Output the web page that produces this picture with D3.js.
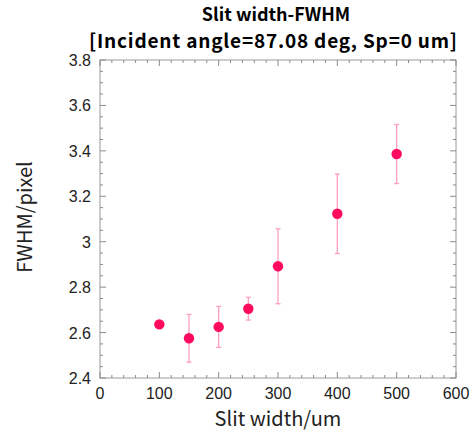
<!DOCTYPE html>
<html>
<head>
<meta charset="utf-8">
<script src="https://cdn.jsdelivr.net/npm/d3@7"></script>
<style>
  body { margin: 0; background: #fff; }
  text { font-family: "Liberation Sans", Arial, sans-serif; }
</style>
</head>
<body>
<svg id="chart"></svg>
<script>
const width = 473;
const height = 434;

// data
const slitWidth = [100, 150, 200, 250, 300, 400, 500];
const fwhm      = [2.636, 2.575, 2.625, 2.705, 2.892, 3.123, 3.386];
const fwhmErr   = [0.015, 0.105, 0.09, 0.05, 0.165, 0.175, 0.13];
const xTicks = [0, 100, 200, 300, 400, 500, 600];
const yTicks = [2.4, 2.6, 2.8, 3.0, 3.2, 3.4, 3.6, 3.8];

const margin = { top: 60, right: 17, bottom: 56, left: 100 };
const innerW = width - margin.left - margin.right;
const innerH = height - margin.top - margin.bottom;

const svg = d3.select('#chart')
    .attr('width', width)
    .attr('height', height);

const g = svg.append('g')
    .attr('transform', `translate(${margin.left},${margin.top})`);

const x = d3.scaleLinear().domain([0, 600]).range([0, innerW]);
const y = d3.scaleLinear().domain([2.4, 3.8]).range([innerH, 0]);

// frame
g.append('rect')
    .attr('width', innerW).attr('height', innerH)
    .attr('fill', 'none').attr('stroke', '#9a9a9a').attr('stroke-width', 1);

// ticks inside on all sides
const tickCol = '#8a8a8a';
const xMinor = d3.range(0, 601, 20);
const yMinor = d3.range(0, 29).map(i => 2.4 + i * 0.05);
function xTick(v, len, top) {
    g.append('line')
        .attr('x1', x(v)).attr('x2', x(v))
        .attr('y1', top ? 0 : innerH).attr('y2', top ? len : innerH - len)
        .attr('stroke', tickCol);
}
function yTick(v, len, right) {
    g.append('line')
        .attr('y1', y(v)).attr('y2', y(v))
        .attr('x1', right ? innerW : 0).attr('x2', right ? innerW - len : len)
        .attr('stroke', tickCol);
}
xMinor.forEach(v => {
    const major = v % 100 === 0;
    xTick(v, major ? 6 : 3, false);
    xTick(v, major ? 6 : 3, true);
});
yMinor.forEach(v => {
    const major = Math.abs(Math.round(v * 5) - v * 5) < 1e-6;
    yTick(v, major ? 6 : 3, false);
    yTick(v, major ? 6 : 3, true);
});

// tick labels
g.selectAll('.xl').data(xTicks).enter().append('text')
    .attr('x', d => x(d)).attr('y', innerH + 21)
    .attr('text-anchor', 'middle')
    .attr('font-size', 16).attr('fill', '#222')
    .text(d => d);
g.selectAll('.yl').data(yTicks).enter().append('text')
    .attr('x', -9).attr('y', d => y(d) + 6)
    .attr('text-anchor', 'end')
    .attr('font-size', 16).attr('fill', '#222')
    .text(d => d3.format('~g')(d));

// error bars
const errCol = '#ff9fc0';
slitWidth.forEach((s, i) => {
    const cx = x(s);
    const top = y(fwhm[i] + fwhmErr[i]);
    const bot = y(fwhm[i] - fwhmErr[i]);
    g.append('line').attr('x1', cx).attr('x2', cx).attr('y1', top).attr('y2', bot)
        .attr('stroke', errCol).attr('stroke-width', 1.3);
    [top, bot].forEach(yy => {
        g.append('line').attr('x1', cx - 2.5).attr('x2', cx + 2.5).attr('y1', yy).attr('y2', yy)
            .attr('stroke', errCol).attr('stroke-width', 1.3);
    });
});

// points
g.selectAll('.pt').data(slitWidth).enter().append('circle')
    .attr('cx', d => x(d))
    .attr('cy', (d, i) => y(fwhm[i]))
    .attr('r', 5.2)
    .attr('fill', '#ff0a5f');

// titles
const cjk = '"Noto Sans CJK JP", "DejaVu Sans", sans-serif';
const midX = margin.left + innerW / 2;
svg.append('text')
    .attr('x', midX - 2).attr('y', 21)
    .attr('text-anchor', 'middle')
    .attr('font-size', 18).attr('font-weight', 'bold')
    .style('font-family', cjk)
    .text('Slit width-FWHM');
svg.append('text')
    .attr('x', midX - 5).attr('y', 48)
    .attr('text-anchor', 'middle')
    .attr('font-size', 19).attr('font-weight', 'bold')
    .attr('textLength', 368).attr('lengthAdjust', 'spacing')
    .style('font-family', cjk)
    .text('[Incident angle=87.08 deg, Sp=0 um]');

svg.append('text')
    .attr('x', midX).attr('y', 426)
    .attr('text-anchor', 'middle')
    .attr('font-size', 20).attr('fill', '#222')
    .style('font-family', cjk)
    .text('Slit width/um');
svg.append('text')
    .attr('transform', `translate(32,${margin.top + innerH / 2 - 2}) rotate(-90)`)
    .attr('text-anchor', 'middle')
    .attr('font-size', 20).attr('fill', '#222')
    .style('font-family', cjk)
    .text('FWHM/pixel');
</script>
</body>
</html>
